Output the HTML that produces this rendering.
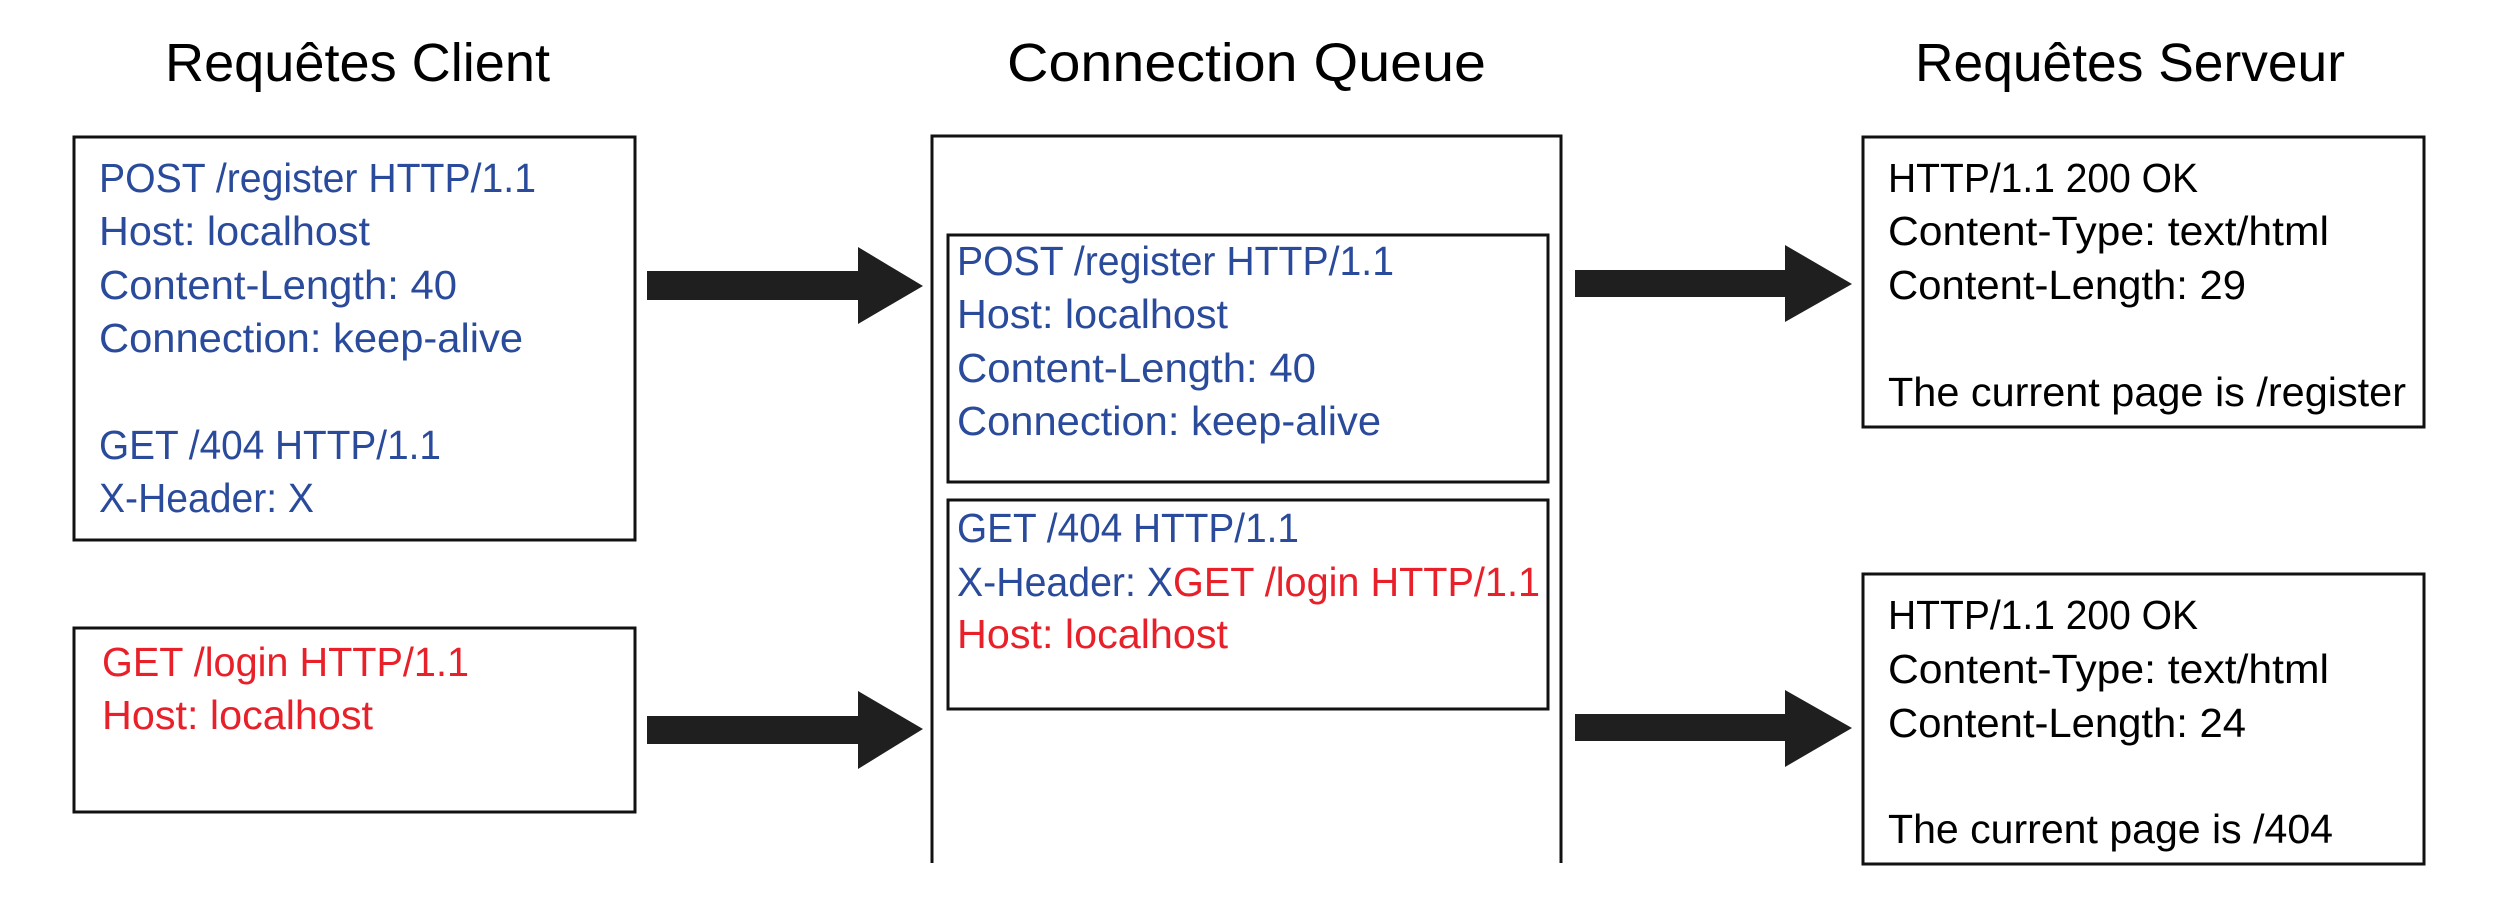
<!DOCTYPE html>
<html><head><meta charset="utf-8"><style>html,body{margin:0;padding:0;background:#fff}svg{display:block}</style></head>
<body>
<svg width="2500" height="911" viewBox="0 0 2500 911" xmlns="http://www.w3.org/2000/svg" font-family="Liberation Sans, sans-serif">
<rect width="2500" height="911" fill="#fff"/>
<g font-size="54" fill="#000">
<text x="165" y="81" textLength="385" lengthAdjust="spacingAndGlyphs">Requêtes Client</text>
<text x="1007" y="81" textLength="479" lengthAdjust="spacingAndGlyphs">Connection  Queue</text>
<text x="1915" y="81" textLength="430" lengthAdjust="spacingAndGlyphs">Requêtes Serveur</text>
</g>
<g fill="none" stroke="#111" stroke-width="3">
<rect x="74" y="137" width="561" height="403"/>
<rect x="74" y="628" width="561" height="184"/>
<path d="M932 863 V136 H1561 V863"/>
<rect x="948" y="235" width="600" height="247"/>
<rect x="948" y="500" width="600" height="209"/>
<rect x="1863" y="137" width="561" height="290"/>
<rect x="1863" y="574" width="561" height="290"/>
</g>
<g fill="#1f1f1f">
<polygon points="647,271 858,271 858,247 923,286 858,324 858,300 647,300"/>
<polygon points="647,716 858,716 858,691 923,729 858,769 858,744 647,744"/>
<polygon points="1575,270 1785,270 1785,245 1852,284 1785,322 1785,297 1575,297"/>
<polygon points="1575,714 1785,714 1785,690 1852,728 1785,767 1785,741 1575,741"/>
</g>
<g font-size="41" lengthAdjust="spacingAndGlyphs">
<g fill="#2a4b9b">
<text x="99" y="192" textLength="437" lengthAdjust="spacingAndGlyphs">POST /register HTTP/1.1</text>
<text x="99" y="245" textLength="271" lengthAdjust="spacingAndGlyphs">Host: localhost</text>
<text x="99" y="299" textLength="358" lengthAdjust="spacingAndGlyphs">Content-Length: 40</text>
<text x="99" y="352" textLength="424" lengthAdjust="spacingAndGlyphs">Connection: keep-alive</text>
<text x="99" y="459" textLength="342" lengthAdjust="spacingAndGlyphs">GET /404 HTTP/1.1</text>
<text x="99" y="512" textLength="215" lengthAdjust="spacingAndGlyphs">X-Header: X</text>
<text x="957" y="275" textLength="437" lengthAdjust="spacingAndGlyphs">POST /register HTTP/1.1</text>
<text x="957" y="328" textLength="271" lengthAdjust="spacingAndGlyphs">Host: localhost</text>
<text x="957" y="382" textLength="359" lengthAdjust="spacingAndGlyphs">Content-Length: 40</text>
<text x="957" y="435" textLength="424" lengthAdjust="spacingAndGlyphs">Connection: keep-alive</text>
<text x="957" y="542" textLength="342" lengthAdjust="spacingAndGlyphs">GET /404 HTTP/1.1</text>
<text x="957" y="596" textLength="216" lengthAdjust="spacingAndGlyphs">X-Header: X</text>
</g>
<g fill="#e8202a">
<text x="102" y="676" textLength="367" lengthAdjust="spacingAndGlyphs">GET /login HTTP/1.1</text>
<text x="102" y="729" textLength="271" lengthAdjust="spacingAndGlyphs">Host: localhost</text>
<text x="1173" y="596" textLength="367" lengthAdjust="spacingAndGlyphs">GET /login HTTP/1.1</text>
<text x="957" y="648" textLength="271" lengthAdjust="spacingAndGlyphs">Host: localhost</text>
</g>
<g fill="#000">
<text x="1888" y="192" textLength="310" lengthAdjust="spacingAndGlyphs">HTTP/1.1 200 OK</text>
<text x="1888" y="245" textLength="441" lengthAdjust="spacingAndGlyphs">Content-Type: text/html</text>
<text x="1888" y="299" textLength="358" lengthAdjust="spacingAndGlyphs">Content-Length: 29</text>
<text x="1888" y="406" textLength="518" lengthAdjust="spacingAndGlyphs">The current page is /register</text>
<text x="1888" y="629" textLength="310" lengthAdjust="spacingAndGlyphs">HTTP/1.1 200 OK</text>
<text x="1888" y="683" textLength="441" lengthAdjust="spacingAndGlyphs">Content-Type: text/html</text>
<text x="1888" y="737" textLength="358" lengthAdjust="spacingAndGlyphs">Content-Length: 24</text>
<text x="1888" y="843" textLength="445" lengthAdjust="spacingAndGlyphs">The current page is /404</text>
</g>
</g>
</svg>
</body></html>
